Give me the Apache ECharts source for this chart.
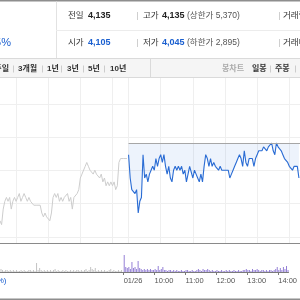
<!DOCTYPE html>
<html><head><meta charset="utf-8">
<script src="https://cdn.jsdelivr.net/npm/echarts@6/dist/echarts.min.js"></script>
<style>html,body{margin:0;padding:0;background:#fff}#c{width:300px;height:300px}</style>
</head><body><div id="c"></div>
<script>
// ---- data ----
const prevClose = 4135;
const stepMin = 3;
const prevStart = -240;   // minutes relative to 01/26 09:00
const todayStart = 0;
const prevPrices = [4035,4030,4050,4060,4065,4060,4065,4050,4060,4065,
  4060,4065,4070,4060,4065,4070,4065,4060,4065,4060,
  4060,4055,4055,4055,4055,4055,4045,4040,4045,4040,
  4040,4035,4045,4065,4070,4065,4070,4060,4065,4060,
  4065,4065,4070,4060,4065,4050,4065,4065,4070,4075,
  4090,4095,4095,4105,4110,4105,4100,4100,4095,4100,
  4095,4095,4090,4095,4085,4090,4080,4085,4080,4085,
  4080,4085,4075,4080,4110,4115,4115,4115,4115,4115];
const prevVolumes = [8000,6000,4000,2000,4000,4000,2000,4000,2000,4000,
  2000,4000,2000,2000,4000,2000,4000,2000,2000,4000,
  4000,2000,4000,2000,18000,4000,8000,4000,2000,4000,
  2000,4000,2000,4000,2000,4000,6000,2000,4000,2000,
  2000,4000,2000,4000,2000,2000,4000,2000,4000,2000,
  4000,4000,2000,4000,2000,4000,6000,2000,4000,10000,
  6000,4000,8000,2000,4000,2000,4000,2000,4000,2000,
  2000,4000,6000,2000,4000,2000,2000,4000,2000,4000];
const todayPrices = [4120,4090,4075,4075,4070,4075,4045,4060,4065,4120,
  4090,4095,4085,4095,4100,4105,4100,4115,4105,4115,
  4120,4110,4120,4105,4095,4105,4090,4085,4100,4105,
  4100,4105,4100,4105,4095,4100,4085,4095,4105,4105,
  4090,4100,4095,4090,4085,4095,4085,4105,4120,4115,
  4105,4115,4105,4110,4105,4105,4100,4105,4100,4100,
  4100,4100,4100,4090,4095,4100,4105,4110,4115,4120,
  4115,4105,4125,4110,4105,4115,4115,4115,4105,4115,
  4120,4125,4125,4125,4130,4130,4125,4130,4130,4135,
  4125,4120,4135,4130,4130,4125,4120,4115,4115,4110,
  4105,4105,4100,4105,4105,4105,4090];
const todayVolumes = [34000,10000,8000,10000,6000,20000,8000,10000,6000,22000,
  8000,6000,4000,6000,4000,6000,4000,6000,4000,4000,
  6000,4000,12000,4000,6000,10000,4000,4000,2000,4000,
  4000,2000,4000,2000,4000,2000,2000,4000,2000,2000,
  4000,4000,2000,2000,4000,2000,2000,4000,6000,4000,
  2000,6000,4000,4000,6000,4000,2000,4000,2000,2000,
  4000,2000,2000,4000,2000,2000,4000,2000,4000,2000,
  2000,4000,2000,2000,4000,2000,2000,4000,4000,6000,
  4000,4000,2000,6000,4000,4000,6000,4000,2000,4000,
  4000,2000,4000,2000,4000,4000,2000,4000,6000,10000,
  4000,8000,4000,10000,6000,12000,4000];
const gridTimes = [-210,-150,-90,-30,0,60,120,180,240,300];
const gridPrices = [4014,4057,4100,4142,4185];
const tickTimes = [0,60,120,180,240,300];
const tickLabels = ['01/26','10:00','11:00','12:00','13:00','14:00'];
const infoRow1 = [['전일',68,'#333',false],['4,135',88,'#222',true],['고가',143,'#333',false],['4,135',162,'#222',true],['(상한가 5,370)',187,'#555',false],['거래량',283,'#333',false]];
const infoRow2 = [['시가',68,'#333',false],['4,105',88,'#1a5fcf',true],['저가',143,'#333',false],['4,045',162,'#1a5fcf',true],['(하한가 2,895)',187,'#555',false],['거래대금',283,'#333',false]];
const tabsLeft = [['3개월',18],['1년',47],['3년',67],['5년',88],['10년',110]];
const tabsRight = [['봉차트',222,'#aaa'],['일봉',252,'#333'],['주봉',275,'#333'],['월봉',300,'#333']];

// ---- build ----
const F = "'Liberation Sans','Noto Sans CJK KR',sans-serif";
const toPairs = (arr, start) => arr.map((v, i) => [start + i * stepMin, v]);
const g = [];
const line = (x1,y1,x2,y2,c,w) => g.push({type:'line', z:100, silent:true, shape:{x1,y1,x2,y2}, style:{stroke:c, lineWidth:w||1}});
const text = (t,x,y,c,size,bold,align) => g.push({type:'text', z:101, silent:true, x, y, style:{text:t, fill:c, font:(bold?'bold ':'')+size+'px '+F, verticalAlign:'middle', align:align||'left'}});
// header
g.push({type:'rect', z:100, silent:true, shape:{x:0,y:0,width:300,height:1.5}, style:{fill:'#8e8e8e'}});
line(56.5,1.5,56.5,58,'#e2e2e2');
line(56,30.5,300,30.5,'#ececec');
text('-0.85%',11,43,'#1a5fcf',11,false,'right');
infoRow1.forEach(r => text(r[0], r[1], 16, r[2], r[3]?9:8.5, r[3]));
infoRow2.forEach(r => text(r[0], r[1], 43, r[2], r[3]?9:8.5, r[3]));
[137.5,279.5].forEach(x => { line(x,12,x,20,'#cfcfcf'); line(x,39,x,47,'#cfcfcf'); });
// tab bar
g.push({type:'rect', z:99, silent:true, shape:{x:0,y:58,width:300,height:20}, style:{fill:'#f5f5f5'}});
line(0,58.5,300,58.5,'#dadada');
line(0,77.5,300,77.5,'#dadada');
line(150.5,58,150.5,78,'#dadada');
text('1주일',9,69,'#333',8,true,'right');
tabsLeft.forEach(r => text(r[0], r[1], 69, '#333', 8, true));
[13.5,42.5,61.5,83.5,104.5].forEach(x => line(x,65.5,x,72.5,'#cccccc'));
tabsRight.forEach(r => text(r[0], r[1], 69, r[2], 8, true));
[270.5,295.5].forEach(x => line(x,65.5,x,72.5,'#cccccc'));
// bottom
g.push({type:'rect', z:100, silent:true, shape:{x:0,y:298.5,width:300,height:1.5}, style:{fill:'#8e8e8e'}});
text('(%)',6.5,281,'#1a5fcf',8,false,'right');

const chart = echarts.init(document.getElementById('c'), null, {renderer:'canvas'});
chart.setOption({
  animation:false,
  backgroundColor:'#fff',
  grid:[{left:0,right:0,top:78,height:165},{left:0,right:0,top:243,height:29}],
  xAxis:[
    {type:'value', gridIndex:0, min:-240, max:320,
     axisLine:{show:true, onZero:false, lineStyle:{color:'#8a8a8a', width:1}},
     axisTick:{show:false, customValues:gridTimes}, axisLabel:{show:false},
     splitLine:{show:true, lineStyle:{color:'#efefef', width:1}}},
    {type:'value', gridIndex:1, min:-240, max:320,
     axisLine:{show:true, onZero:false, lineStyle:{color:'#7a7a7a', width:1}},
     axisTick:{show:true, length:3, customValues:tickTimes, lineStyle:{color:'#7a7a7a'}},
     axisLabel:{show:true, customValues:tickTimes, align:'left', margin:5, fontSize:7.5, color:'#555', fontFamily:F,
       formatter:v => tickLabels[tickTimes.indexOf(v)] || ''},
     splitLine:{show:false}}
  ],
  yAxis:[
    {type:'value', gridIndex:0, min:4006.4, max:4218.6,
     axisLine:{show:false}, axisLabel:{show:false},
     axisTick:{show:false, customValues:gridPrices},
     splitLine:{show:true, lineStyle:{color:'#efefef', width:1}}},
    {type:'value', gridIndex:1, min:0, max:58000,
     axisLine:{show:false}, axisLabel:{show:false}, axisTick:{show:false}, splitLine:{show:false}}
  ],
  series:[
    {type:'line', xAxisIndex:0, yAxisIndex:0, data:toPairs(prevPrices, prevStart), symbol:'none',
     lineStyle:{color:'#cdcdcd', width:1}, silent:true},
    {type:'line', xAxisIndex:0, yAxisIndex:0, data:toPairs(todayPrices, todayStart), symbol:'none',
     lineStyle:{color:'#2a6cd4', width:1.1}, silent:true,
     areaStyle:{origin:prevClose, color:'rgba(60,120,220,0.13)'},
     markLine:{silent:true, symbol:'none', label:{show:false}, lineStyle:{color:'#a6a6a6', width:1, type:'solid'},
       data:[[{coord:[todayStart, prevClose]},{coord:[320, prevClose]}]]}},
    {type:'bar', xAxisIndex:1, yAxisIndex:1, data:toPairs(prevVolumes, prevStart), barWidth:1,
     itemStyle:{color:'#c4c4c4'}, silent:true},
    {type:'bar', xAxisIndex:1, yAxisIndex:1, data:toPairs(todayVolumes, todayStart), barWidth:1,
     itemStyle:{color:'#9580d6'}, silent:true}
  ],
  graphic:g
});
</script></body></html>
